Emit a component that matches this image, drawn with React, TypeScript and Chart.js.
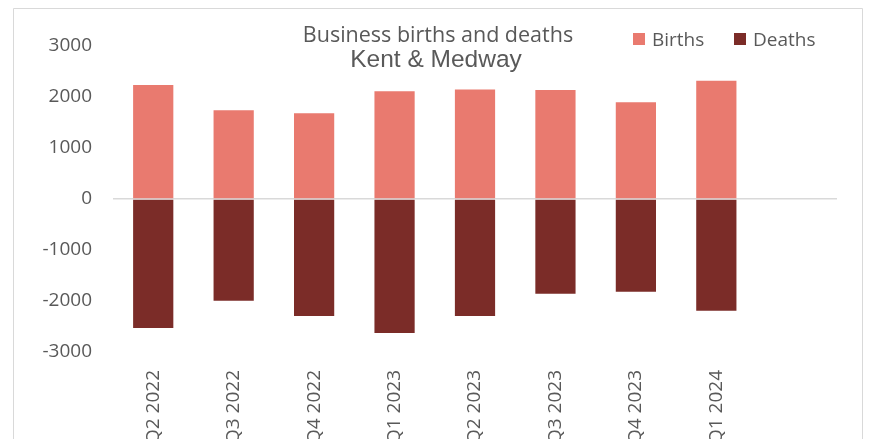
import React, { useEffect, useRef } from "react";
import { Chart, registerables } from "chart.js";

Chart.register(...registerables);

const categories = ["Q2 2022", "Q3 2022", "Q4 2022", "Q1 2023", "Q2 2023", "Q3 2023", "Q4 2023", "Q1 2024", ""];
const births = [2233, 1741, 1682, 2115, 2148, 2135, 1898, 2317, null];
const deaths = [-2528, -1997, -2292, -2626, -2292, -1859, -1820, -2193, null];
const yTicks = [3000, 2000, 1000, 0, -1000, -2000, -3000];
const titleLines = ["Business births and deaths", "Kent & Medway"];
const seriesNames = ["Births", "Deaths"];

const BIRTH_COLOR = "#E97A6F";
const DEATH_COLOR = "#7B2C28";
const TEXT = "#595959";

const decorPlugin = {
  id: "decor",
  beforeDraw(chart: any) {
    const ctx = chart.ctx;
    ctx.save();
    ctx.fillStyle = "#ffffff";
    ctx.fillRect(0, 0, chart.width, chart.height);
    ctx.strokeStyle = "#d9d9d9";
    ctx.lineWidth = 1;
    ctx.beginPath();
    ctx.moveTo(13.5, chart.height + 5);
    ctx.lineTo(13.5, 8.5);
    ctx.lineTo(862.5, 8.5);
    ctx.lineTo(862.5, chart.height + 5);
    ctx.stroke();
    ctx.restore();
  },
  afterDraw(chart: any) {
    const ctx = chart.ctx;
    ctx.save();
    ctx.fillStyle = TEXT;
    ctx.textAlign = "center";
    ctx.textBaseline = "alphabetic";
    ctx.font = "21.5px 'Open Sans'";
    ctx.fillText(titleLines[0], 438, 42);
    ctx.font = "24.5px 'Liberation Sans'";
    ctx.fillText(titleLines[1], 436, 67);

    // legend
    ctx.textAlign = "left";
    ctx.font = "19px 'Open Sans'";
    const items = [
      { name: seriesNames[0], color: BIRTH_COLOR, x: 633 },
      { name: seriesNames[1], color: DEATH_COLOR, x: 734 },
    ];
    for (const it of items) {
      ctx.fillStyle = it.color;
      ctx.fillRect(it.x, 33, 12, 12);
      ctx.fillStyle = TEXT;
      ctx.fillText(it.name, it.x + 19, 46);
    }
    ctx.restore();
  },
};

export default function App() {
  const ref = useRef<HTMLCanvasElement>(null);
  useEffect(() => {
    if (!ref.current) return;
    const chart = new Chart(ref.current, {
      type: "bar",
      data: {
        labels: categories,
        datasets: [
          {
            label: seriesNames[0],
            data: births as any,
            backgroundColor: BIRTH_COLOR,
            borderWidth: 0,
          },
          {
            label: seriesNames[1],
            data: deaths as any,
            backgroundColor: DEATH_COLOR,
            borderWidth: 0,
          },
        ],
      },
      options: {
        responsive: false,
        animation: false,
        layout: { padding: { left: 0, right: 35, top: 46, bottom: 0 } },
        plugins: {
          legend: { display: false },
          title: { display: false },
          tooltip: { enabled: false },
        },
        datasets: {
          bar: { categoryPercentage: 1, barPercentage: 0.5 },
        } as any,
        scales: {
          x: {
            stacked: true,
            grid: { display: false },
            border: { display: false },
            ticks: {
              color: TEXT,
              font: { family: "'Open Sans'", size: 19 },
              minRotation: 90,
              maxRotation: 90,
              padding: 10,
              autoSkip: false,
            },
            afterFit: (scale: any) => {
              scale.height = 87;
            },
          },
          y: {
            stacked: true,
            min: -3000,
            max: 3000,
            z: 1,
            afterBuildTicks: (scale: any) => {
              scale.ticks = yTicks.map((v) => ({ value: v }));
            },
            afterFit: (scale: any) => {
              scale.width = 113;
            },
            grid: {
              drawTicks: false,
              color: (c: any) => (c.tick && c.tick.value === 0 ? "#d9d9d9" : "rgba(0,0,0,0)"),
              lineWidth: 1.5,
            },
            border: { display: false },
            ticks: {
              color: TEXT,
              font: { family: "'Open Sans'", size: 19 },
              padding: 21,
              callback: (v: any) => String(v),
            },
          },
        },
      },
      plugins: [decorPlugin],
    });
    return () => chart.destroy();
  }, []);
  return (
    <div style={{ position: "absolute", left: 0, top: 0, width: 872, height: 439, overflow: "hidden", background: "#fff" }}>
      <canvas ref={ref} width={872} height={439} style={{ display: "block" }} />
    </div>
  );
}
